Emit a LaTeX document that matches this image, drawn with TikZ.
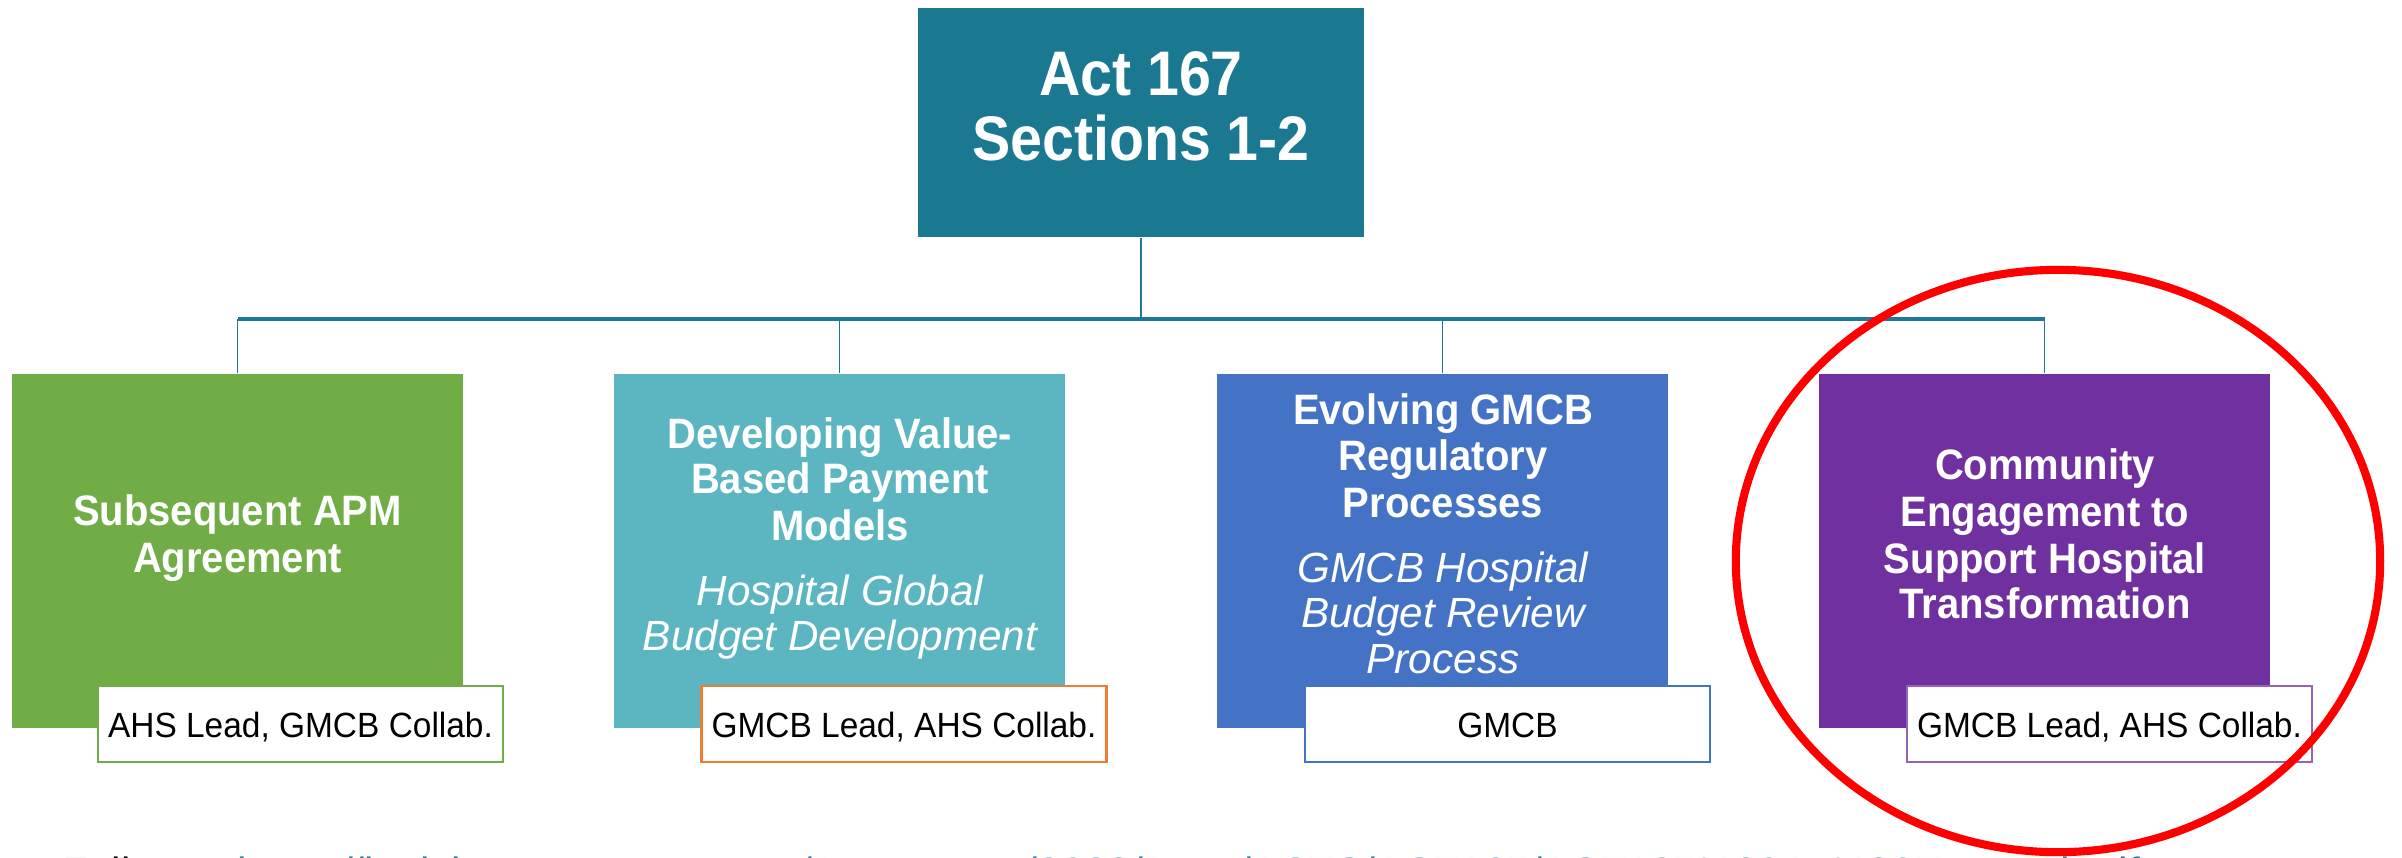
\documentclass[tikz,border=0pt]{standalone}
\usepackage{fontspec}
\setmainfont{Liberation Sans}
\newfontfamily\hdfont[FakeStretch=0.94]{Liberation Sans}
\newfontfamily\topfont[FakeStretch=0.91]{Liberation Sans}
\newfontfamily\subfont[FakeStretch=0.955]{Liberation Sans}
\newfontfamily\itfont{Liberation Sans}
\usetikzlibrary{calc}
\definecolor{topc}{RGB}{27,120,145}
\definecolor{connc}{RGB}{31,120,148}
\definecolor{dropc}{RGB}{35,115,160}
\definecolor{greenc}{RGB}{112,173,71}
\definecolor{tealc}{RGB}{91,182,193}
\definecolor{bluec}{RGB}{68,114,196}
\definecolor{purpc}{RGB}{112,48,160}
\definecolor{orangec}{RGB}{237,125,49}
\definecolor{linkc}{RGB}{31,120,148}
\tikzset{
  box/.style={rectangle, draw=none, inner sep=0pt, minimum width=4.51cm, minimum height=3.54cm},
  topbox/.style={rectangle, draw=none, fill=topc, inner sep=0pt, minimum width=4.46cm, minimum height=2.29cm},
  subbox/.style={rectangle, fill=white, line width=0.7pt, inner sep=0pt, minimum width=4.05cm, minimum height=0.76cm},
  hd/.style={anchor=base, text=white, inner sep=0pt, font=\hdfont\fontsize{12.1}{13}\selectfont\bfseries},
  tp/.style={anchor=base, text=white, inner sep=0pt, font=\topfont\fontsize{17.9}{19}\selectfont\bfseries},
  itl/.style={anchor=base, text=white, inner sep=0pt, font=\itfont\fontsize{12}{13}\selectfont\itshape},
  sub/.style={anchor=base, text=black, inner sep=0pt, font=\subfont\fontsize{9.96}{11}\selectfont},
  trunk/.style={draw=connc, line width=0.8pt},
  busline/.style={draw=connc, line width=1.0pt},
  drop/.style={draw=dropc, line width=0.5pt},
  mark ring/.style={draw=red, line width=2.3pt}
}
\begin{document}
\begin{tikzpicture}[x=0.01cm, y=-0.01cm]
\useasboundingbox (0,0) rectangle (2402,857);

% top box
\node[topbox] (top) at (1141,122.5) {};
\node[tp] (top1) at (1141,95) {Act 167};
\node[tp] (top2) at (1141,160) {Sections 1-2};

% four boxes
\node[box, fill=greenc] (b1) at (237.5,551) {};
\node[box, fill=tealc]  (b2) at (839.5,551) {};
\node[box, fill=bluec]  (b3) at (1442.5,551) {};
\node[box, fill=purpc]  (b4) at (2044.5,551) {};

% connectors
\coordinate (bus) at (1141,319);
\draw[drop] (b1.north |- bus) -- (b1.north);
\draw[drop] (b2.north |- bus) -- (b2.north);
\draw[drop] (b3.north |- bus) -- (b3.north);
\draw[drop] (b4.north |- bus) -- (b4.north);
\draw[trunk] (top.south) -- (top.south |- bus);
\draw[busline] (b1.north |- bus) -- (b4.north |- bus);

% green text
\node[hd] (g1) at (237.5,525) {Subsequent APM};
\node[hd] (g2) at (237.5,572) {Agreement};

% teal text
\node[hd] (t1) at (840,448) {Developing Value-};
\node[hd] (t2) at (840,493) {Based Payment};
\node[hd] (t3) at (840,540) {Models};
\node[itl] (t4) at (840,605) {Hospital Global};
\node[itl] (t5) at (840,650) {Budget Development};

% blue text
\node[hd] (u1) at (1443,424) {Evolving GMCB};
\node[hd] (u2) at (1443,470) {Regulatory};
\node[hd] (u3) at (1443,517) {Processes};
\node[itl] (u4) at (1443,582) {GMCB Hospital};
\node[itl] (u5) at (1443,627) {Budget Review};
\node[itl] (u6) at (1443,673) {Process};

% purple text
\node[hd] (p1) at (2045,479) {Community};
\node[hd] (p2) at (2045,526) {Engagement to};
\node[hd] (p3) at (2045,573) {Support Hospital};
\node[hd] (p4) at (2045,618) {Transformation};

% sub boxes
\node[subbox, draw=greenc]  (s1) at (300.5,724) {};
\node[subbox, draw=orangec] (s2) at (904,724) {};
\node[subbox, draw=bluec]   (s3) at (1507.5,724) {};
\node[subbox, draw=purpc!75] (s4) at (2109.5,724) {};
\node[sub] (s1t) at (300.5,737) {AHS Lead, GMCB Collab.};
\node[sub] (s2t) at (904,737) {GMCB Lead, AHS Collab.};
\node[sub] (s3t) at (1507.5,737) {GMCB};
\node[sub] (s4t) at (2109.5,737) {GMCB Lead, AHS Collab.};

% bottom line, cut off by the lower edge as in the reference
\begin{scope}
\clip (0,0) rectangle (2402,857);
\node[anchor=base west, inner sep=0pt, font=\fontsize{12}{13}\selectfont] (link) at (62,887)
  {Full text: \textcolor{linkc}{https://legislature.vermont.gov/Documents/2022/Docs/ACTS/ACT167/ACT167\%20As\%20Enacted.pdf}};
\end{scope}

% red ring
\draw[mark ring] (2058,561) ellipse [x radius=3.22cm, y radius=2.91cm];
\end{tikzpicture}
\end{document}
